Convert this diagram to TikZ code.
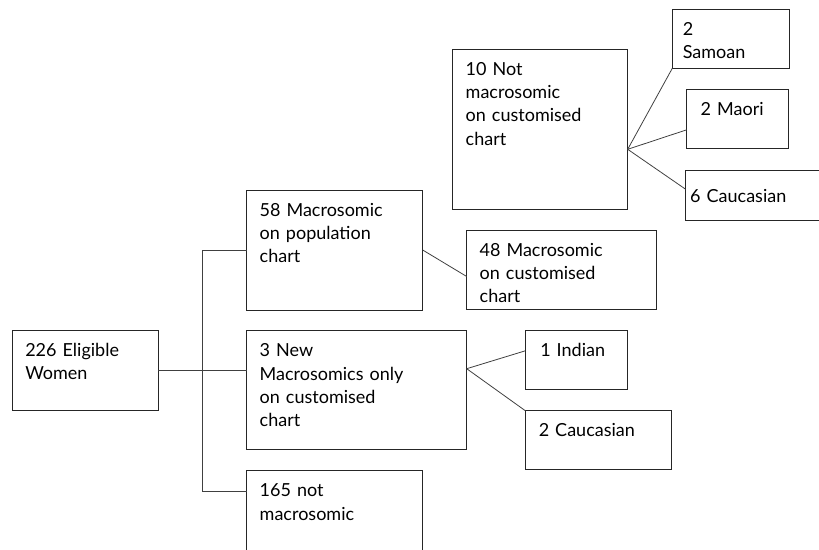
\documentclass[tikz,border=0pt]{standalone}
\usepackage{fontspec}
\setmainfont{Lato}
\usetikzlibrary{positioning,calc}

\begin{document}
\begin{tikzpicture}[x=1pt, y=-1pt,
  box/.style={draw=black!85, line width=0.8pt, anchor=north west, align=left, outer sep=0pt,
    inner xsep=13pt, inner ysep=0pt, text height=26pt, font=\fontsize{18}{23.3}\selectfont},
  link/.style={draw=black!75, line width=0.8pt}]
\clip (0,0) rectangle (819,549);
\node[box, text width=120pt, text depth=54pt] (root) at (12.3,330.3) {226 Eligible\\Women};
\node[box, text width=150pt, text depth=94pt] (pop)  at (246.7,190) {58 Macrosomic\\on population\\chart};
\node[box, text width=194pt, text depth=93pt] (new)  at (246.7,330.7) {3 New\\Macrosomics only\\on customised\\chart};
\node[box, text width=150pt, text depth=94pt] (low)  at (246.7,470.7) {165 not\\macrosomic};
\node[box, text width=164pt, text depth=53pt] (cust) at (466.7,230) {48 Macrosomic\\on customised\\chart};
\node[box, text width=149pt, text depth=134pt] (notm) at (452.7,49.3) {10 Not\\macrosomic\\on customised\\chart};
\node[box, inner xsep=10.5pt, text width=96pt, text depth=33pt] (sam) at (672.3,9.3) {2\\Samoan};
\node[box, inner xsep=14pt, text width=74pt, text depth=33pt] (mao) at (686.7,89.3) {2 Maori};
\node[box, inner xsep=4.5pt, text width=131pt, text height=32pt, text depth=18pt] (cauA) at (685.7,170.3) {6 Caucasian};
\node[box, inner xsep=15pt, text width=72pt, text depth=33pt] (ind) at (525.3,330.3) {1 Indian};
\node[box, inner xsep=13.5pt, text width=119pt, text depth=33pt] (cauB) at (525.3,410.7) {2 Caucasian};
\coordinate (split) at ($(root.east)!0.5!(root.east -| pop.west)$);
\coordinate (newfan) at ([yshift=-38pt]new.north east);
\coordinate (notfan) at ([yshift=-100pt]notm.north east);
\draw[link] (root.east) -- (root.east -| new.west);
\draw[link] (pop.west) -| (split) |- ([yshift=-21pt]low.north west);
\draw[link] (pop.east) -- ([yshift=-7pt]cust.west);
\draw[link] (newfan) -- ([yshift=9pt]ind.west);
\draw[link] (newfan) -- (cauB.north west);
\draw[link] (notfan) -- (sam.south west);
\draw[link] (notfan) -- ([yshift=-11pt]mao.west);
\draw[link] (notfan) -- ([yshift=6pt]cauA.west);
\end{tikzpicture}
\end{document}
